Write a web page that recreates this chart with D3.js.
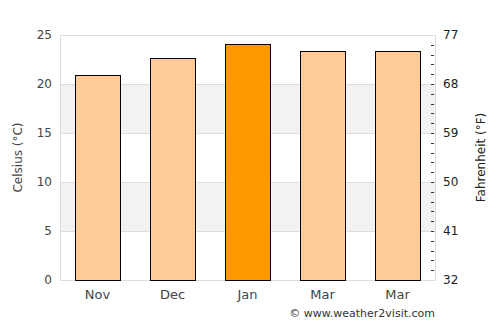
<!DOCTYPE html>
<html>
<head>
<meta charset="utf-8">
<script src="https://cdn.jsdelivr.net/npm/d3@7"></script>
<style>
  body { margin: 0; background: #fff; }
  text { font-family: "DejaVu Sans", sans-serif; }
</style>
</head>
<body>
<div id="chart"></div>
<script>
// chart data
let months = ["Nov", "Dec", "Jan", "Mar", "Mar"];
let temps = [20.9, 22.7, 24.1, 23.4, 23.4];
let highlight = [false, false, true, false, false];
let celsiusTicks = [0, 5, 10, 15, 20, 25];
let fahrenheitTicks = [32, 41, 50, 59, 68, 77];

let width = 500;
let height = 325;
let margin = { top: 35, right: 65, bottom: 45, left: 60 };

let svg = d3.select("#chart")
    .append("svg")
    .attr("width", width)
    .attr("height", height);

let xScale = d3.scaleBand()
    .domain(d3.range(months.length))
    .range([margin.left, width - margin.right])
    .paddingInner(0.4)
    .paddingOuter(0.2);

let yScale = d3.scaleLinear()
    .domain([0, 25])
    .range([height - margin.bottom, margin.top]);

let fScale = d3.scaleLinear()
    .domain([32, 77])
    .range([height - margin.bottom, margin.top]);

// alternating bands
let bands = [[5, 10], [15, 20]];
svg.selectAll(".band")
    .data(bands)
    .enter()
    .append("rect")
    .attr("x", margin.left)
    .attr("width", width - margin.right - margin.left)
    .attr("y", d => yScale(d[1]))
    .attr("height", d => yScale(d[0]) - yScale(d[1]))
    .attr("fill", "#f2f2f2");

// grid lines
svg.selectAll(".grid")
    .data(celsiusTicks.slice(1))
    .enter()
    .append("line")
    .attr("x1", margin.left)
    .attr("x2", width - margin.right)
    .attr("y1", d => Math.round(yScale(d)) + 0.5)
    .attr("y2", d => Math.round(yScale(d)) + 0.5)
    .attr("stroke", "#dddddd");

// plot border left/right/bottom
let x0 = margin.left + 0.5, x1 = width - margin.right + 0.5;
let yb = height - margin.bottom + 0.5, yt = margin.top + 0.5;
svg.append("path")
    .attr("d", `M${x0},${yt}V${yb}H${x1}V${yt}`)
    .attr("fill", "none")
    .attr("stroke", "#dddddd");

// bars
svg.selectAll(".bar")
    .data(temps)
    .enter()
    .append("rect")
    .attr("x", (d, i) => Math.round(xScale(i)) + 0.5)
    .attr("width", Math.round(xScale.bandwidth()))
    .attr("y", d => Math.round(yScale(d)) + 0.5)
    .attr("height", d => Math.round(yScale(0) - yScale(d)))
    .attr("fill", (d, i) => highlight[i] ? "#ff9900" : "#ffcc99")
    .attr("stroke", "#000")
    .attr("stroke-width", 1);

// right axis minor ticks (every 1 C)
svg.selectAll(".ftick")
    .data(d3.range(1, 25))
    .enter()
    .append("line")
    .attr("x1", width - margin.right - 4)
    .attr("x2", width - margin.right - 1)
    .attr("y1", d => Math.round(yScale(d)) + 0.5)
    .attr("y2", d => Math.round(yScale(d)) + 0.5)
    .attr("stroke", "#333");

// left tick labels
svg.selectAll(".clabel")
    .data(celsiusTicks)
    .enter()
    .append("text")
    .attr("x", margin.left - 8)
    .attr("y", d => yScale(d) + 4)
    .attr("text-anchor", "end")
    .attr("font-size", 12)
    .attr("fill", "#444")
    .text(d => d);

// right tick labels
svg.selectAll(".flabel")
    .data(fahrenheitTicks)
    .enter()
    .append("text")
    .attr("x", width - margin.right + 8)
    .attr("y", d => fScale(d) + 4)
    .attr("font-size", 12)
    .attr("fill", "#222")
    .text(d => d);

// x labels
svg.selectAll(".xlabel")
    .data(months)
    .enter()
    .append("text")
    .attr("x", (d, i) => xScale(i) + xScale.bandwidth() / 2)
    .attr("y", height - margin.bottom + 19)
    .attr("text-anchor", "middle")
    .attr("font-size", 13)
    .attr("fill", "#444")
    .text(d => d);

// axis titles
svg.append("text")
    .attr("transform", `translate(22,${(margin.top + height - margin.bottom) / 2}) rotate(-90)`)
    .attr("text-anchor", "middle")
    .attr("font-size", 12)
    .attr("fill", "#444")
    .text("Celsius (°C)");

svg.append("text")
    .attr("transform", `translate(485,${(margin.top + height - margin.bottom) / 2}) rotate(-90)`)
    .attr("text-anchor", "middle")
    .attr("font-size", 12)
    .attr("fill", "#222")
    .text("Fahrenheit (°F)");

// credit
svg.append("text")
    .attr("x", width - margin.right)
    .attr("y", height - 8)
    .attr("text-anchor", "end")
    .attr("font-size", 11)
    .attr("fill", "#333")
    .text("© www.weather2visit.com");
</script>
</body>
</html>
